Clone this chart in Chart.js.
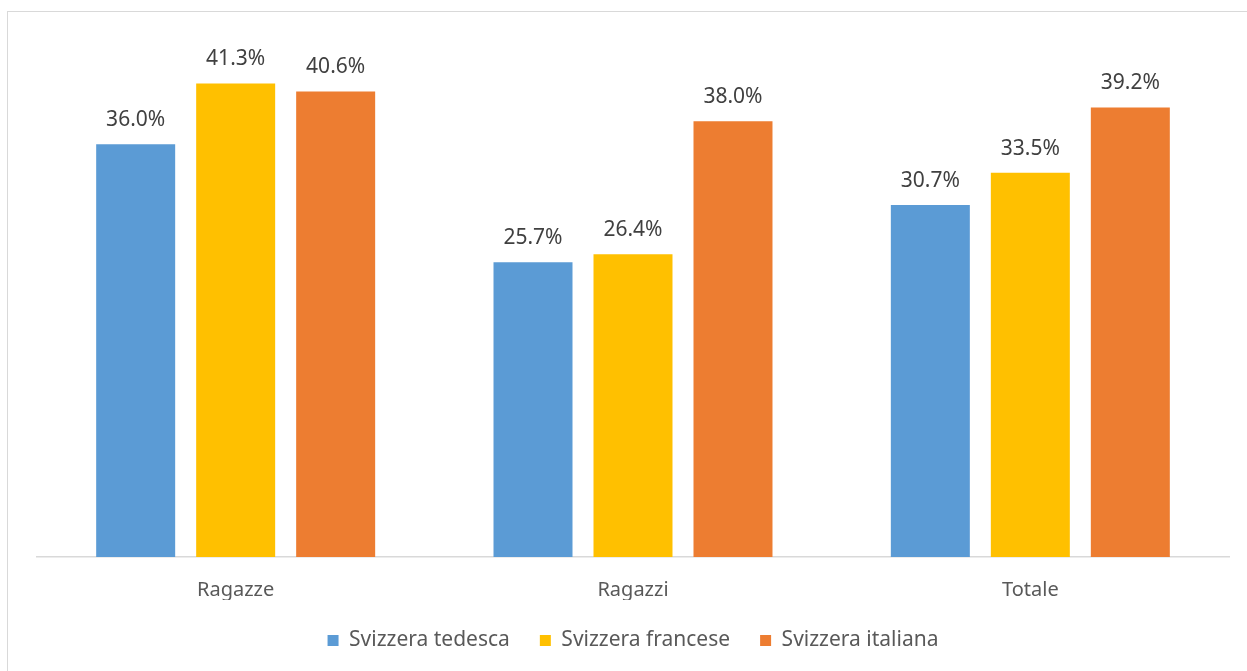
<!DOCTYPE html>
<html lang="it">
<head>
  <meta charset="UTF-8">
  <title>Svizzera tedesca, francese e italiana</title>
  <style>
    html, body {
      margin: 0;
      padding: 0;
      background: #ffffff;
      overflow: hidden;
    }

    .frame {
      position: absolute;
      left: 7px;
      top: 11px;
      width: 1300px;
      height: 700px;
      border: 1.5px solid #d9d9d9;
    }

    .wrap {
      position: absolute;
      left: 0;
      top: 0;
      width: 1247px;
      height: 671px;
    }
  </style>
</head>
<body>
  <div class="frame"></div>
  <div class="wrap"><canvas id="grafico"></canvas></div>

  <script src="https://cdn.jsdelivr.net/npm/chart.js"></script>
  <script>
    // categorie e valori (%)
    const categorie = ['Ragazze', 'Ragazzi', 'Totale'];
    const tedesca = [36.0, 25.7, 30.7];
    const francese = [41.3, 26.4, 33.5];
    const italiana = [40.6, 38.0, 39.2];

    const font = '"Noto Sans", "Open Sans", sans-serif';

    // etichette sopra le barre
    const etichette = {
      id: 'etichette',
      afterDatasetsDraw(chart) {
        const ctx = chart.ctx;
        ctx.save();
        ctx.font = '21px ' + font;
        ctx.fillStyle = '#404040';
        ctx.textAlign = 'center';
        ctx.textBaseline = 'middle';
        chart.data.datasets.forEach((ds, i) => {
          chart.getDatasetMeta(i).data.forEach((bar, j) => {
            ctx.fillText(ds.data[j].toFixed(1) + '%', bar.x, bar.y - 24);
          });
        });
        ctx.restore();
      }
    };

    new Chart(document.getElementById('grafico'), {
      type: 'bar',
      data: {
        labels: categorie,
        datasets: [
          { label: 'Svizzera tedesca', data: tedesca, backgroundColor: '#5b9bd5' },
          { label: 'Svizzera francese', data: francese, backgroundColor: '#ffc000' },
          { label: 'Svizzera italiana', data: italiana, backgroundColor: '#ed7d31' }
        ]
      },
      options: {
        responsive: true,
        maintainAspectRatio: false,
        animation: false,
        categoryPercentage: 0.755,
        barPercentage: 0.79,
        layout: {
          padding: { left: 37, right: 18, top: 41, bottom: 10 }
        },
        scales: {
          x: {
            grid: { display: false, drawTicks: false },
            border: { display: true, color: '#d9d9d9', width: 1.5 },
            ticks: {
              color: '#595959',
              padding: 21,
              font: { family: font, size: 20 }
            },
            // altezza fissa per l'asse, indipendente dal padding della legenda
            afterFit(scale) {
              scale.height = 43;
            }
          },
          y: {
            display: false,
            min: 0,
            max: 45
          }
        },
        plugins: {
          tooltip: { enabled: false },
          legend: {
            position: 'bottom',
            labels: {
              color: '#595959',
              boxWidth: 11,
              boxHeight: 11,
              padding: 30,
              font: { family: font, size: 21 }
            }
          }
        }
      },
      plugins: [etichette]
    });
  </script>
</body>
</html>
